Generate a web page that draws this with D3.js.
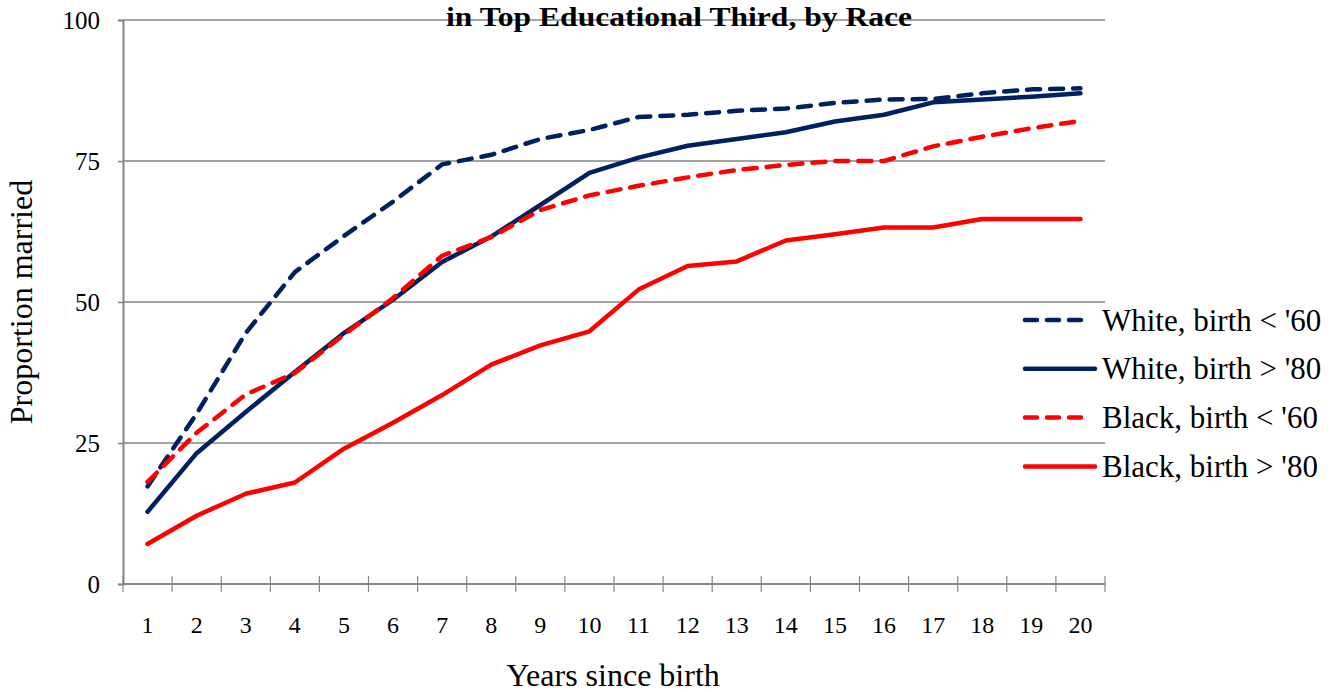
<!DOCTYPE html>
<html>
<head>
<meta charset="utf-8">
<script src="https://cdn.jsdelivr.net/npm/d3@7"></script>
<style>
  html, body { margin: 0; padding: 0; background: #fff; }
  svg { display: block; font-family: "Liberation Serif", "Times New Roman", serif; }
</style>
</head>
<body>
<svg id="chart" width="1340" height="692"></svg>
<script>
// Years since birth
const years = [1, 2, 3, 4, 5, 6, 7, 8, 9, 10, 11, 12, 13, 14, 15, 16, 17, 18, 19, 20];

// Proportion married (%) by cohort
const whiteBefore60 = [17.3, 30.2, 44.5, 55.3, 61.7, 67.8, 74.4, 76.1, 78.9, 80.5, 82.8, 83.2, 83.9, 84.3, 85.3, 85.9, 86.0, 87.0, 87.7, 87.9];
const whiteAfter80  = [12.8, 23.2, 30.5, 37.6, 44.5, 50.4, 57.1, 61.6, 67.2, 72.9, 75.6, 77.7, 78.9, 80.1, 82.0, 83.2, 85.4, 85.9, 86.4, 87.0];
const blackBefore60 = [18.1, 26.8, 33.6, 37.4, 44.2, 50.7, 58.2, 61.5, 66.3, 68.9, 70.6, 72.1, 73.4, 74.3, 75.0, 75.0, 77.6, 79.3, 80.8, 82.1];
const blackAfter80  = [7.1, 12.1, 16.0, 18.0, 24.0, 28.6, 33.5, 38.9, 42.3, 44.8, 52.2, 56.4, 57.2, 60.9, 62.0, 63.2, 63.2, 64.7, 64.7, 64.7];

const seriesNames = ["White, birth < '60", "White, birth > '80", "Black, birth < '60", "Black, birth > '80"];
const yTicks = [0, 25, 50, 75, 100];
const titleText = "in Top Educational Third, by Race";

const series = [
  { name: seriesNames[0], values: whiteBefore60, color: "#002060", dashed: true },
  { name: seriesNames[1], values: whiteAfter80,  color: "#002060", dashed: false },
  { name: seriesNames[2], values: blackBefore60, color: "#ff0000", dashed: true },
  { name: seriesNames[3], values: blackAfter80,  color: "#ff0000", dashed: false }
];

const svg = d3.select("#chart");
const plotLeft = 123, plotRight = 1105, plotTop = 20, plotBottom = 584;
const axisGray = "#868686";

const x = d3.scaleBand().domain(years).range([plotLeft, plotRight]).padding(0);
const y = d3.scaleLinear().domain([0, 100]).range([plotBottom, plotTop]);

// Horizontal gridlines
svg.append("g")
  .selectAll("line")
  .data(yTicks.filter(d => d > 0))
  .join("line")
  .attr("x1", plotLeft).attr("x2", plotRight)
  .attr("y1", d => y(d)).attr("y2", d => y(d))
  .attr("stroke", axisGray).attr("stroke-width", 1.5);

// Y axis
const yAxis = svg.append("g")
  .attr("transform", `translate(${plotLeft},0)`)
  .call(d3.axisLeft(y).tickValues(yTicks).tickSize(5).tickPadding(18));
yAxis.select(".domain").attr("stroke", axisGray).attr("stroke-width", 2);
yAxis.selectAll(".tick line").attr("stroke", axisGray).attr("stroke-width", 1.5);
yAxis.selectAll(".tick text")
  .attr("font-family", "Liberation Serif")
  .attr("font-size", 25).attr("fill", "#000");

// X axis with ticks between categories
svg.append("line")
  .attr("x1", plotLeft).attr("x2", plotRight)
  .attr("y1", plotBottom).attr("y2", plotBottom)
  .attr("stroke", axisGray).attr("stroke-width", 2);

const boundaries = d3.range(years.length + 1).map(i => plotLeft + i * x.bandwidth());
svg.append("g")
  .selectAll("line")
  .data(boundaries)
  .join("line")
  .attr("x1", d => d).attr("x2", d => d)
  .attr("y1", plotBottom - 8).attr("y2", plotBottom + 8)
  .attr("stroke", axisGray).attr("stroke-width", 1.2);

svg.append("g")
  .selectAll("text")
  .data(years)
  .join("text")
  .attr("x", d => x(d) + x.bandwidth() / 2)
  .attr("y", 633)
  .attr("text-anchor", "middle")
  .attr("font-size", 24)
  .text(d => d);

// Axis titles
svg.append("text")
  .attr("x", 613).attr("y", 686)
  .attr("text-anchor", "middle")
  .attr("font-size", 32)
  .text("Years since birth");

svg.append("text")
  .attr("transform", `translate(32,${(plotTop + plotBottom) / 2}) rotate(-90)`)
  .attr("text-anchor", "middle")
  .attr("font-size", 32)
  .text("Proportion married");

// Lines
const line = d3.line()
  .x((d, i) => x(years[i]) + x.bandwidth() / 2)
  .y(d => y(d));

svg.append("g")
  .selectAll("path")
  .data(series)
  .join("path")
  .attr("d", s => line(s.values))
  .attr("fill", "none")
  .attr("stroke", s => s.color)
  .attr("stroke-width", 4.5)
  .attr("stroke-linejoin", "round")
  .attr("stroke-linecap", "round")
  .attr("stroke-dasharray", s => s.dashed ? "13 10" : null);

// Title line at the top edge, slightly widened
svg.append("text")
  .attr("x", 679).attr("y", 26)
  .attr("text-anchor", "middle")
  .attr("font-size", 28)
  .attr("font-weight", "bold")
  .attr("textLength", 466)
  .attr("lengthAdjust", "spacingAndGlyphs")
  .text(titleText);

// Legend
const legend = svg.append("g")
  .selectAll("g")
  .data(series)
  .join("g")
  .attr("transform", (d, i) => `translate(1025,${320 + i * 48.8})`);

legend.append("line")
  .attr("x1", 0).attr("x2", d => d.dashed ? 62 : 70)
  .attr("y1", 0).attr("y2", 0)
  .attr("stroke", d => d.color)
  .attr("stroke-width", 4.5)
  .attr("stroke-linecap", "round")
  .attr("stroke-dasharray", d => d.dashed ? "12 10" : null);

legend.append("text")
  .attr("x", 77).attr("y", 0)
  .attr("dy", "0.34em")
  .attr("font-size", 31)
  .text(d => d.name);
</script>
</body>
</html>
